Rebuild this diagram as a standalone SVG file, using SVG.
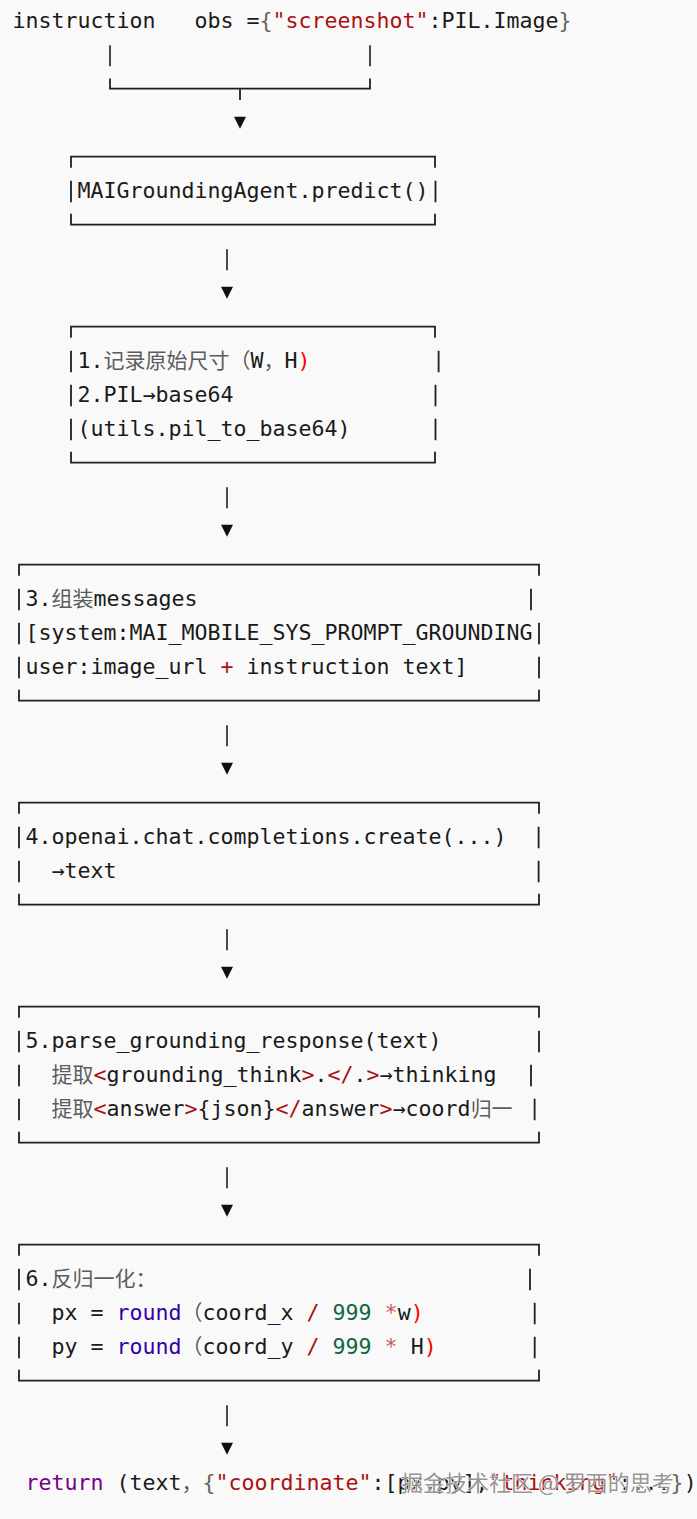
<svg xmlns="http://www.w3.org/2000/svg" width="697" height="1519" viewBox="0 0 697 1519" xml:space="preserve">
<style>
.t{font-family:"DejaVu Sans Mono","Noto Sans CJK SC",monospace;font-size:21.6px;fill:#1a1a1a;white-space:pre}
.cjk{font-family:"Noto Sans CJK SC",sans-serif;font-size:21px;fill:#5c5c5c}
.str{fill:#a11}
.op{fill:#a11}
.op2{fill:#c55}
.err{fill:#f00}
.num{fill:#164}
.bi{fill:#30a}
.kw{fill:#708}
.br{fill:#665}
.frame{stroke:#1f1f1f;stroke-width:1.8;fill:none}
.conn{stroke:#1f1f1f;stroke-width:1.6;fill:none}
.head{fill:#111;stroke:none}
.wm{font-family:"Noto Sans CJK SC",sans-serif;font-size:22px;fill:#7a7a7a;fill-opacity:0.8;stroke:#ffffff;stroke-width:1.2;stroke-opacity:0.85;paint-order:stroke}
</style>
<rect x="0" y="0" width="697" height="1519" fill="#f9f9f9"/>

<g id="inputs">
<text class="t" x="12.5" y="28.2">instruction</text>
<text class="t" x="194.5" y="28.2">obs =<tspan class="br">{</tspan><tspan class="str">"screenshot"</tspan>:PIL.Image<tspan class="br">}</tspan></text>
</g>

<g id="connectors">
<path class="conn" d="M110 45.2V66.2M370 45.2V66.2"/>
<path class="frame" d="M110 78.5V88.7H370V78.5M240 88.7V100"/>
<path class="head" d="M234 116.7H246L240 128.7Z"/>
<path class="conn" d="M227 249.2V270.2"/>
<path class="head" d="M221 286.7H233L227 298.7Z"/>
<path class="conn" d="M227 487.2V508.2"/>
<path class="head" d="M221 524.7H233L227 536.7Z"/>
<path class="conn" d="M227 725.2V746.2"/>
<path class="head" d="M221 762.7H233L227 774.7Z"/>
<path class="conn" d="M227 929.2V950.2"/>
<path class="head" d="M221 966.7H233L227 978.7Z"/>
<path class="conn" d="M227 1167.2V1188.2"/>
<path class="head" d="M221 1204.7H233L227 1216.7Z"/>
<path class="conn" d="M227 1405.2V1426.2"/>
<path class="head" d="M221 1442.7H233L227 1454.7Z"/>
</g>

<g id="predict">
<path class="frame" d="M71 167.7V156.7H435V167.7M71 213.7V224.7H435V213.7M71 180.7V202.2M435.5 180.7V202.2"/>
<text class="t" x="77.5" y="198.2">MAIGroundingAgent.predict()</text>
</g>

<g id="step1-2">
<path class="frame" d="M71 337.7V326.7H435V337.7M71 451.7V462.7H435V451.7M71 350.7V372.2M438.6 350.7V372.2M71 384.7V406.2M435.5 384.7V406.2M71 418.7V440.2M435.5 418.7V440.2"/>
<text class="t" x="77.5" y="368.2">1.<tspan class="cjk">记录原始尺寸（</tspan>W<tspan class="cjk">，</tspan>H<tspan class="err">)</tspan></text>
<text class="t" x="77.5" y="402.2">2.PIL→base64</text>
<text class="t" x="77.5" y="436.2">(utils.pil_to_base64)</text>
</g>

<g id="step3">
<path class="frame" d="M19 575.7V564.7H539V575.7M19 689.7V700.7H539V689.7M19 588.7V610.2M531 588.7V610.2M19 622.7V644.2M539 622.7V644.2M19 656.7V678.2M539 656.7V678.2"/>
<text class="t" x="25.5" y="606.2">3.<tspan class="cjk">组装</tspan>messages</text>
<text class="t" x="25.5" y="640.2">[system:MAI_MOBILE_SYS_PROMPT_GROUNDING</text>
<text class="t" x="25.5" y="674.2">user:image_url <tspan class="op">+</tspan> instruction text]</text>
</g>

<g id="step4">
<path class="frame" d="M19 813.7V802.7H539V813.7M19 893.7V904.7H539V893.7M19 826.7V848.2M538.6 826.7V848.2M19 860.7V882.2M538.6 860.7V882.2"/>
<text class="t" x="25.5" y="844.2">4.openai.chat.completions.create(...)</text>
<text class="t" x="51.5" y="878.2">→text</text>
</g>

<g id="step5">
<path class="frame" d="M19 1017.7V1006.7H539V1017.7M19 1131.7V1142.7H539V1131.7M19 1030.7V1052.2M539 1030.7V1052.2M19 1064.7V1086.2M531 1064.7V1086.2M19 1098.7V1120.2M534.6 1098.7V1120.2"/>
<text class="t" x="25.5" y="1048.2">5.parse_grounding_response(text)</text>
<text class="t" x="51.5" y="1082.2"><tspan class="cjk">提取</tspan><tspan class="op">&lt;</tspan>grounding_think<tspan class="op">&gt;</tspan>.<tspan class="op">&lt;/</tspan>.<tspan class="op">&gt;</tspan>→thinking</text>
<text class="t" x="51.5" y="1116.2"><tspan class="cjk">提取</tspan><tspan class="op">&lt;</tspan>answer<tspan class="op">&gt;</tspan>{json}<tspan class="op">&lt;/</tspan>answer<tspan class="op">&gt;</tspan>→coord<tspan class="cjk">归一</tspan></text>
</g>

<g id="step6">
<path class="frame" d="M19 1255.7V1244.7H539V1255.7M19 1369.7V1380.7H539V1369.7M19 1268.7V1290.2M530 1268.7V1290.2M19 1302.7V1324.2M534.7 1302.7V1324.2M19 1336.7V1358.2M534.7 1336.7V1358.2"/>
<text class="t" x="25.5" y="1286.2">6.<tspan class="cjk">反归一化：</tspan></text>
<text class="t" x="51.5" y="1320.2">px = <tspan class="bi">round</tspan><tspan class="cjk">（</tspan>coord_x <tspan class="op">/</tspan> <tspan class="num">999</tspan> <tspan class="op2">*</tspan>w<tspan class="err">)</tspan></text>
<text class="t" x="51.5" y="1354.2">py = <tspan class="bi">round</tspan><tspan class="cjk">（</tspan>coord_y <tspan class="op">/</tspan> <tspan class="num">999</tspan> <tspan class="op2">*</tspan> H<tspan class="err">)</tspan></text>
</g>

<g id="return">
<text class="t" x="25.5" y="1490.2"><tspan class="kw">return</tspan> (text<tspan class="cjk">，</tspan><tspan class="br">{</tspan><tspan class="str">"coordinate"</tspan>:[px,py],<tspan class="str">"thinking"</tspan>:...<tspan class="br">}</tspan>)</text>
<text class="wm" x="401" y="1491">掘金技术社区 @ 罗西的思考</text>
</g>
</svg>
